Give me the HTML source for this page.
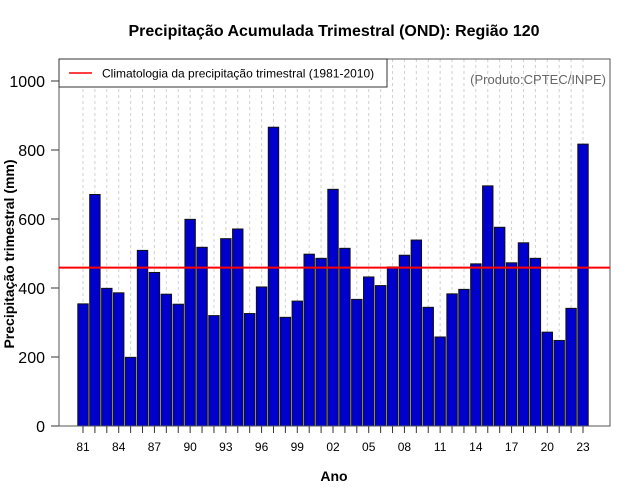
<!DOCTYPE html>
<html><head><meta charset="utf-8"><style>
body{margin:0;background:#fff;}
svg{display:block;font-family:"Liberation Sans",sans-serif;}
</style></head><body>
<svg id="chart" width="640" height="500">
<text x="334" y="36" text-anchor="middle" font-size="16" font-weight="bold">Precipitação Acumulada Trimestral (OND): Região 120</text>
<g id="grid"></g>
<g id="bars"></g>
<g id="axes"></g>
<rect x="59" y="59" width="551" height="367" fill="none" stroke="#555" stroke-width="1"/>
<line id="clim" x1="59" x2="610" stroke="#ff0000" stroke-width="2"/>
<g>
<rect x="59" y="59" width="328" height="28" fill="#fff" stroke="#333" stroke-width="1"/>
<line x1="69" x2="92" y1="73" y2="73" stroke="#ff0000" stroke-width="1.5"/>
<text x="102" y="77.5" font-size="12">Climatologia da precipitação trimestral (1981-2010)</text>
</g>
<text x="606" y="84" text-anchor="end" font-size="13" fill="#666">(Produto:CPTEC/INPE)</text>
<text x="334" y="481" text-anchor="middle" font-size="14" font-weight="bold">Ano</text>
<text transform="translate(14,254) rotate(-90)" text-anchor="middle" font-size="14" font-weight="bold">Precipitação trimestral (mm)</text>
</svg>
<script>
const years=[1981,1982,1983,1984,1985,1986,1987,1988,1989,1990,1991,1992,1993,1994,1995,1996,1997,1998,1999,2000,2001,2002,2003,2004,2005,2006,2007,2008,2009,2010,2011,2012,2013,2014,2015,2016,2017,2018,2019,2020,2021,2022,2023];
const values=[354,671,399,386,199,509,445,382,353,599,518,320,543,571,326,403,866,315,362,498,486,686,515,367,432,407,461,495,539,344,258,383,396,470,696,576,473,531,486,272,248,341,817];
const climatology=[459];
const yTicks=[0,200,400,600,800,1000];
const NS='http://www.w3.org/2000/svg';
const x=i=>83+i*11.905;
const y=v=>426-v*0.345;
function mk(t,a,p){const e=document.createElementNS(NS,t);for(const k in a)e.setAttribute(k,a[k]);p.appendChild(e);return e;}
const grid=document.getElementById('grid'),bars=document.getElementById('bars'),axes=document.getElementById('axes');
years.forEach((yr,i)=>{
  const g=mk('line',{x1:x(i),x2:x(i),y1:59,y2:426,stroke:'#d0d0d0','stroke-dasharray':'3,3','stroke-width':1},grid);
  
  
  const b=mk('rect',{x:x(i)-5.2,y:y(values[i]),width:10.4,height:values[i]*0.345,fill:'#0000cd',stroke:'#111','stroke-width':1},bars);
  
  
  const t=mk('line',{x1:x(i),x2:x(i),y1:426,y2:433,stroke:'#333'},axes);
  
  
  if(i%3===0){
    const l=mk('text',{x:x(i),y:451,'text-anchor':'middle','font-size':12},axes);
    l.textContent=String(yr).slice(2);
    
    
  }
});
yTicks.forEach(v=>{
  const t=mk('line',{x1:51,x2:59,y1:y(v),y2:y(v),stroke:'#333'},axes);
  
  
  const l=mk('text',{x:45,y:y(v)+6,'text-anchor':'end','font-size':16},axes);
  l.textContent=v;
  
  
});
const c=document.getElementById('clim');
c.setAttribute('y1',y(climatology[0]));c.setAttribute('y2',y(climatology[0]));
</script>
</body></html>
